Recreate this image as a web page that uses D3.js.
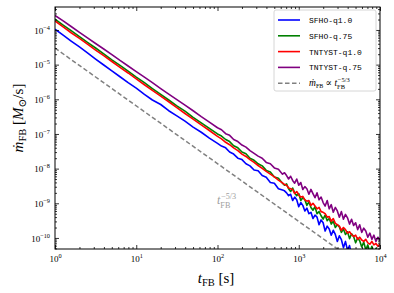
<!DOCTYPE html>
<html lang="en">
<head>
<meta charset="utf-8">
<title>Fallback accretion rate</title>
<script src="https://cdn.jsdelivr.net/npm/d3@7/dist/d3.min.js"></script>
<style>
  body { margin: 0; background: #fff; }
  svg { display: block; }
  .serif { font-family: "Liberation Serif", "DejaVu Serif", serif; }
  .mono { font-family: "Liberation Mono", "DejaVu Sans Mono", monospace; }
</style>
</head>
<body>
<script>
// time after merger [s]
const tFB = [1, 1.26, 1.58, 2.0, 2.51, 3.16, 3.98, 5.01, 6.31, 7.94, 10, 12.6, 15.8, 20.0, 25.1, 31.6, 39.8, 50.1, 63.1, 79.4, 100,
  112, 126, 141, 158, 178, 200, 224, 251, 282, 316, 355, 398, 447, 501, 562, 631,
  668, 708, 750, 794, 841, 891, 944, 1000, 1059, 1122, 1189, 1259, 1334, 1413, 1496, 1585, 1679, 1778, 1884, 1995,
  2113, 2239, 2371, 2512, 2661, 2818, 2985, 3162, 3350, 3548, 3758, 3981, 4217, 4467, 4732, 5012, 5309, 5623, 5957,
  6310, 6683, 7079, 7499, 7943, 8414, 8913, 9441, 10000];

// fallback rates [Msun/s]
const sfhoQ10 = [1.05e-4, 7.08e-5, 4.79e-5, 3.24e-5, 2.19e-5, 1.45e-5, 9.77e-6, 6.61e-6, 4.47e-6, 3.02e-6, 2.09e-6, 1.38e-6, 9.55e-7, 7.08e-7, 4.68e-7, 3.31e-7, 2.34e-7, 1.58e-7, 1.12e-7, 7.59e-8, 5.37e-8,
  4.47e-8, 3.98e-8, 3.02e-8, 2.63e-8, 2.00e-8, 1.82e-8, 1.38e-8, 1.20e-8, 9.12e-9, 8.71e-9, 6.31e-9, 5.62e-9, 3.98e-9, 3.80e-9, 2.63e-9, 2.40e-9,
  2.29e-9, 2.00e-9, 1.66e-9, 1.82e-9, 1.20e-9, 1.51e-9, 1.26e-9, 7.94e-10, 1.05e-9, 8.71e-10, 6.03e-10, 7.24e-10, 5.01e-10, 5.50e-10, 3.63e-10, 4.57e-10,
  3.98e-10, 2.40e-10, 3.31e-10, 2.75e-10, 1.58e-10, 2.19e-10, 1.82e-10, 1.20e-10, 1.66e-10, 1.26e-10, 7.94e-11, 1.15e-10, 8.91e-11, 5.25e-11, 7.94e-11, 4.37e-11,
  6.03e-11, 3.16e-11, 2.82e-11, 3.98e-11, 2.24e-11, 3.16e-11, 1.78e-11, 2.51e-11, 1.41e-11, 2.00e-11, 1.12e-11, 1.58e-11, 8.91e-12, 1.26e-11, 7.94e-12, 1.00e-11];
const sfhoQ075 = [2.04e-4, 1.38e-4, 9.55e-5, 6.46e-5, 4.37e-5, 3.02e-5, 2.04e-5, 1.38e-5, 9.55e-6, 6.46e-6, 4.37e-6, 3.02e-6, 2.04e-6, 1.38e-6, 9.55e-7, 6.46e-7, 4.57e-7, 3.02e-7, 2.09e-7, 1.45e-7, 1.00e-7,
  8.71e-8, 6.92e-8, 6.03e-8, 4.57e-8, 3.98e-8, 3.02e-8, 2.69e-8, 2.00e-8, 1.74e-8, 1.38e-8, 1.20e-8, 8.91e-9, 7.94e-9, 5.75e-9, 5.25e-9, 3.80e-9,
  3.31e-9, 3.63e-9, 2.63e-9, 2.19e-9, 2.75e-9, 2.00e-9, 1.66e-9, 1.91e-9, 1.20e-9, 1.45e-9, 1.26e-9, 8.71e-10, 1.10e-9, 7.59e-10, 6.31e-10, 7.94e-10,
  5.01e-10, 5.75e-10, 4.37e-10, 3.47e-10, 4.57e-10, 3.16e-10, 3.63e-10, 2.51e-10, 3.02e-10, 2.00e-10, 2.40e-10, 2.09e-10, 1.45e-10, 1.82e-10, 1.26e-10, 1.51e-10,
  9.55e-11, 1.32e-10, 1.10e-10, 7.24e-11, 1.00e-10, 8.32e-11, 5.50e-11, 7.59e-11, 4.57e-11, 6.31e-11, 3.98e-11, 5.75e-11, 3.47e-11, 5.01e-11, 3.02e-11, 4.37e-11];
const tntystQ10 = [1.82e-4, 1.23e-4, 8.32e-5, 5.75e-5, 3.89e-5, 2.63e-5, 1.82e-5, 1.23e-5, 8.32e-6, 5.75e-6, 3.89e-6, 2.63e-6, 1.82e-6, 1.23e-6, 8.51e-7, 5.75e-7, 3.89e-7, 2.69e-7, 1.82e-7, 1.26e-7, 8.51e-8,
  7.24e-8, 5.75e-8, 4.90e-8, 3.98e-8, 3.31e-8, 2.63e-8, 2.24e-8, 1.82e-8, 1.51e-8, 1.23e-8, 1.02e-8, 8.32e-9, 6.92e-9, 5.75e-9, 4.68e-9, 3.89e-9,
  3.47e-9, 3.31e-9, 2.75e-9, 2.63e-9, 2.51e-9, 1.91e-9, 2.19e-9, 1.74e-9, 1.51e-9, 1.58e-9, 1.26e-9, 1.15e-9, 1.20e-9, 8.71e-10, 1.00e-9, 8.32e-10,
  6.92e-10, 7.59e-10, 5.75e-10, 5.50e-10, 5.01e-10, 3.98e-10, 4.17e-10, 3.02e-10, 3.63e-10, 2.63e-10, 2.40e-10, 2.19e-10, 1.66e-10, 2.00e-10, 1.74e-10, 1.38e-10,
  1.51e-10, 1.26e-10, 1.10e-10, 1.20e-10, 9.12e-11, 1.05e-10, 8.71e-11, 7.94e-11, 9.12e-11, 7.24e-11, 6.61e-11, 7.94e-11, 6.31e-11, 6.92e-11, 5.75e-11, 6.61e-11];
const tntystQ075 = [2.63e-4, 1.82e-4, 1.26e-4, 8.51e-5, 5.89e-5, 4.07e-5, 2.82e-5, 1.95e-5, 1.32e-5, 9.12e-6, 6.31e-6, 4.37e-6, 3.02e-6, 2.04e-6, 1.41e-6, 9.77e-7, 6.76e-7, 4.68e-7, 3.16e-7, 2.19e-7, 1.51e-7,
  1.32e-7, 1.02e-7, 9.12e-8, 6.92e-8, 6.03e-8, 4.79e-8, 4.17e-8, 3.31e-8, 2.75e-8, 2.29e-8, 2.00e-8, 1.51e-8, 1.38e-8, 1.05e-8, 9.55e-9, 6.92e-9,
  7.59e-9, 6.31e-9, 5.01e-9, 6.03e-9, 4.57e-9, 3.80e-9, 5.01e-9, 3.31e-9, 3.98e-9, 2.51e-9, 3.02e-9, 2.63e-9, 1.82e-9, 2.51e-9, 1.91e-9, 1.45e-9,
  2.00e-9, 1.26e-9, 1.51e-9, 1.05e-9, 8.32e-10, 1.20e-9, 6.92e-10, 9.12e-10, 5.50e-10, 7.59e-10, 6.03e-10, 3.98e-10, 5.75e-10, 3.47e-10, 4.79e-10, 3.80e-10,
  2.51e-10, 3.47e-10, 2.29e-10, 2.75e-10, 1.74e-10, 2.40e-10, 1.45e-10, 1.91e-10, 1.58e-10, 1.05e-10, 1.38e-10, 9.12e-11, 1.20e-10, 7.94e-11, 1.05e-10, 8.32e-11];

// t^-5/3 reference line, end points
const refT = [1, 10000];
const refRate = [3.0e-5, 6.46e-12];

const seriesNames = ["SFHO-q1.0", "SFHO-q.75", "TNTYST-q1.0", "TNTYST-q.75"];
const seriesValues = [sfhoQ10, sfhoQ075, tntystQ10, tntystQ075];
const seriesColors = ["#0000ff", "#008000", "#ff0000", "#800080"];

const xMajor = [1, 10, 100, 1000, 10000];
const yMajor = [1e-10, 1e-9, 1e-8, 1e-7, 1e-6, 1e-5, 1e-4];

const w = 394, h = 293;
const margin = {top: 7, right: 14, bottom: 44, left: 55};
const x0 = margin.left, x1 = w - margin.right;
const y0 = margin.top, y1 = h - margin.bottom;

const svg = d3.select("body").append("svg")
  .attr("width", w).attr("height", h);

const x = d3.scaleLog().domain([1, 1e4]).range([x0, x1]);
const y = d3.scaleLog().domain([4.8e-11, 4.6e-4]).range([y1, y0]);

// minor ticks 2..9 per decade
function minors(scale) {
  const [a, b] = scale.domain();
  const out = [];
  for (let e = Math.floor(Math.log10(a)); e <= Math.ceil(Math.log10(b)); e++) {
    for (let m = 2; m <= 9; m++) {
      const v = m * Math.pow(10, e);
      if (v >= a && v <= b) out.push(v);
    }
  }
  return out;
}

function powLabel(sel) {
  sel.selectAll(".tick text").each(function(d) {
    const t = d3.select(this).text("").attr("class", "serif").attr("fill", "#000");
    t.append("tspan").attr("font-size", "9px").text("10");
    t.append("tspan").attr("font-size", "6.3px").attr("dy", "-4")
      .text(String(Math.round(Math.log10(d))).replace("-", "\u2212"));
  });
}

function styleAxis(g) {
  g.select(".domain").remove();
  g.selectAll(".tick line").attr("stroke", "#000").attr("stroke-width", 0.8);
}

// lines
svg.append("clipPath").attr("id", "clip")
  .append("rect").attr("x", x0).attr("y", y0).attr("width", x1 - x0).attr("height", y1 - y0);

const line = d3.line().x(d => x(d[0])).y(d => y(d[1]));
const plot = svg.append("g").attr("clip-path", "url(#clip)");

seriesValues.forEach((vals, i) => {
  const pts = tFB.slice(0, vals.length).map((t, k) => [t, vals[k]]);
  plot.append("path").datum(pts)
    .attr("d", line)
    .attr("fill", "none")
    .attr("stroke", seriesColors[i])
    .attr("stroke-width", 1.6)
    .attr("stroke-linejoin", "round");
});

plot.append("path").datum(refT.map((t, k) => [t, refRate[k]]))
  .attr("d", line)
  .attr("fill", "none")
  .attr("stroke", "#808080")
  .attr("stroke-width", 1.5)
  .attr("stroke-dasharray", "4.5,2.5");

// axes, ticks inward on all sides
const left = svg.append("g").attr("transform", `translate(${x0},0)`)
  .call(d3.axisLeft(y).tickValues(yMajor).tickSizeInner(-4).tickSizeOuter(0).tickPadding(5));
styleAxis(left); powLabel(left);
svg.append("g").attr("transform", `translate(${x0},0)`)
  .call(d3.axisLeft(y).tickValues(minors(y)).tickSizeInner(-2).tickSizeOuter(0).tickFormat(""))
  .call(styleAxis);

const bottom = svg.append("g").attr("transform", `translate(0,${y1})`)
  .call(d3.axisBottom(x).tickValues(xMajor).tickSizeInner(-4).tickSizeOuter(0).tickPadding(6));
styleAxis(bottom); powLabel(bottom);
svg.append("g").attr("transform", `translate(0,${y1})`)
  .call(d3.axisBottom(x).tickValues(minors(x)).tickSizeInner(-2).tickSizeOuter(0).tickFormat(""))
  .call(styleAxis);

svg.append("g").attr("transform", `translate(0,${y0})`)
  .call(d3.axisTop(x).tickValues(xMajor).tickSizeInner(-4).tickSizeOuter(0).tickFormat(""))
  .call(styleAxis);
svg.append("g").attr("transform", `translate(0,${y0})`)
  .call(d3.axisTop(x).tickValues(minors(x)).tickSizeInner(-2).tickSizeOuter(0).tickFormat(""))
  .call(styleAxis);
svg.append("g").attr("transform", `translate(${x1},0)`)
  .call(d3.axisRight(y).tickValues(yMajor).tickSizeInner(-4).tickSizeOuter(0).tickFormat(""))
  .call(styleAxis);
svg.append("g").attr("transform", `translate(${x1},0)`)
  .call(d3.axisRight(y).tickValues(minors(y)).tickSizeInner(-2).tickSizeOuter(0).tickFormat(""))
  .call(styleAxis);

svg.append("rect")
  .attr("x", x0).attr("y", y0).attr("width", x1 - x0).attr("height", y1 - y0)
  .attr("fill", "none").attr("stroke", "#000").attr("stroke-width", 1);

// axis labels
const xl = svg.append("text").attr("class", "serif")
  .attr("x", 216).attr("y", 283).attr("text-anchor", "middle").attr("font-size", "15px");
xl.append("tspan").attr("font-style", "italic").text("t");
xl.append("tspan").attr("font-size", "10.5px").attr("dy", 3).text("FB");
xl.append("tspan").attr("dy", -3).text("\u00A0[s]");

const yl = svg.append("text").attr("class", "serif")
  .attr("transform", "translate(23,118) rotate(-90)")
  .attr("text-anchor", "middle").attr("font-size", "15px");
yl.append("tspan").attr("font-style", "italic").text("\u1E41");
yl.append("tspan").attr("font-size", "10.5px").attr("dy", 3).text("FB");
yl.append("tspan").attr("dy", -3).text("\u00A0[");
yl.append("tspan").attr("font-style", "italic").text("M");
yl.append("tspan").attr("font-size", "10.5px").attr("dy", 3).text("\u2299");
yl.append("tspan").attr("dy", -3).text("/s]");

// t^-5/3 annotation
function tPow(g, px, py, size, color) {
  const base = g.append("text").attr("class", "serif")
    .attr("x", px).attr("y", py).attr("font-size", size + "px").attr("fill", color)
    .attr("font-style", "italic").text("t");
  const bw = base.node().getComputedTextLength();
  g.append("text").attr("class", "serif")
    .attr("x", px + bw + 0.8).attr("y", py - size * 0.45).attr("font-size", (size * 0.68) + "px")
    .attr("fill", color).text("\u22125/3");
  g.append("text").attr("class", "serif")
    .attr("x", px + bw).attr("y", py + size * 0.3).attr("font-size", (size * 0.68) + "px")
    .attr("fill", color).text("FB");
}
tPow(svg, 217, 204, 12, "#a0a0a0");

// legend
const lg = svg.append("g");
lg.append("rect").attr("x", 274).attr("y", 10).attr("width", 102).attr("height", 81)
  .attr("rx", 2).attr("fill", "#fff").attr("fill-opacity", 0.8)
  .attr("stroke", "#cccccc").attr("stroke-width", 0.8);

const rowY = d => 20 + d * 15.8;
seriesNames.forEach((name, i) => {
  lg.append("line").attr("x1", 278).attr("x2", 300).attr("y1", rowY(i)).attr("y2", rowY(i))
    .attr("stroke", seriesColors[i]).attr("stroke-width", 1.6);
  lg.append("text").attr("class", "mono").attr("x", 309).attr("y", rowY(i) + 3)
    .attr("font-size", "8px").attr("fill", "#000").text(name);
});
lg.append("line").attr("x1", 278).attr("x2", 300).attr("y1", rowY(4)).attr("y2", rowY(4))
  .attr("stroke", "#808080").attr("stroke-width", 1.5).attr("stroke-dasharray", "4.5,2.5");
const lt = lg.append("text").attr("class", "serif").attr("x", 309).attr("y", rowY(4) + 3)
  .attr("font-size", "9.5px").attr("fill", "#000");
lt.append("tspan").attr("font-style", "italic").text("\u1E41");
lt.append("tspan").attr("font-size", "6px").attr("dy", 2).text("FB");
lt.append("tspan").attr("dy", -2).text("\u00A0\u221D\u00A0");
const ltw = lt.node().getComputedTextLength();
tPow(lg, 309 + ltw, rowY(4) + 3, 9.5, "#000");
</script>
</body>
</html>
